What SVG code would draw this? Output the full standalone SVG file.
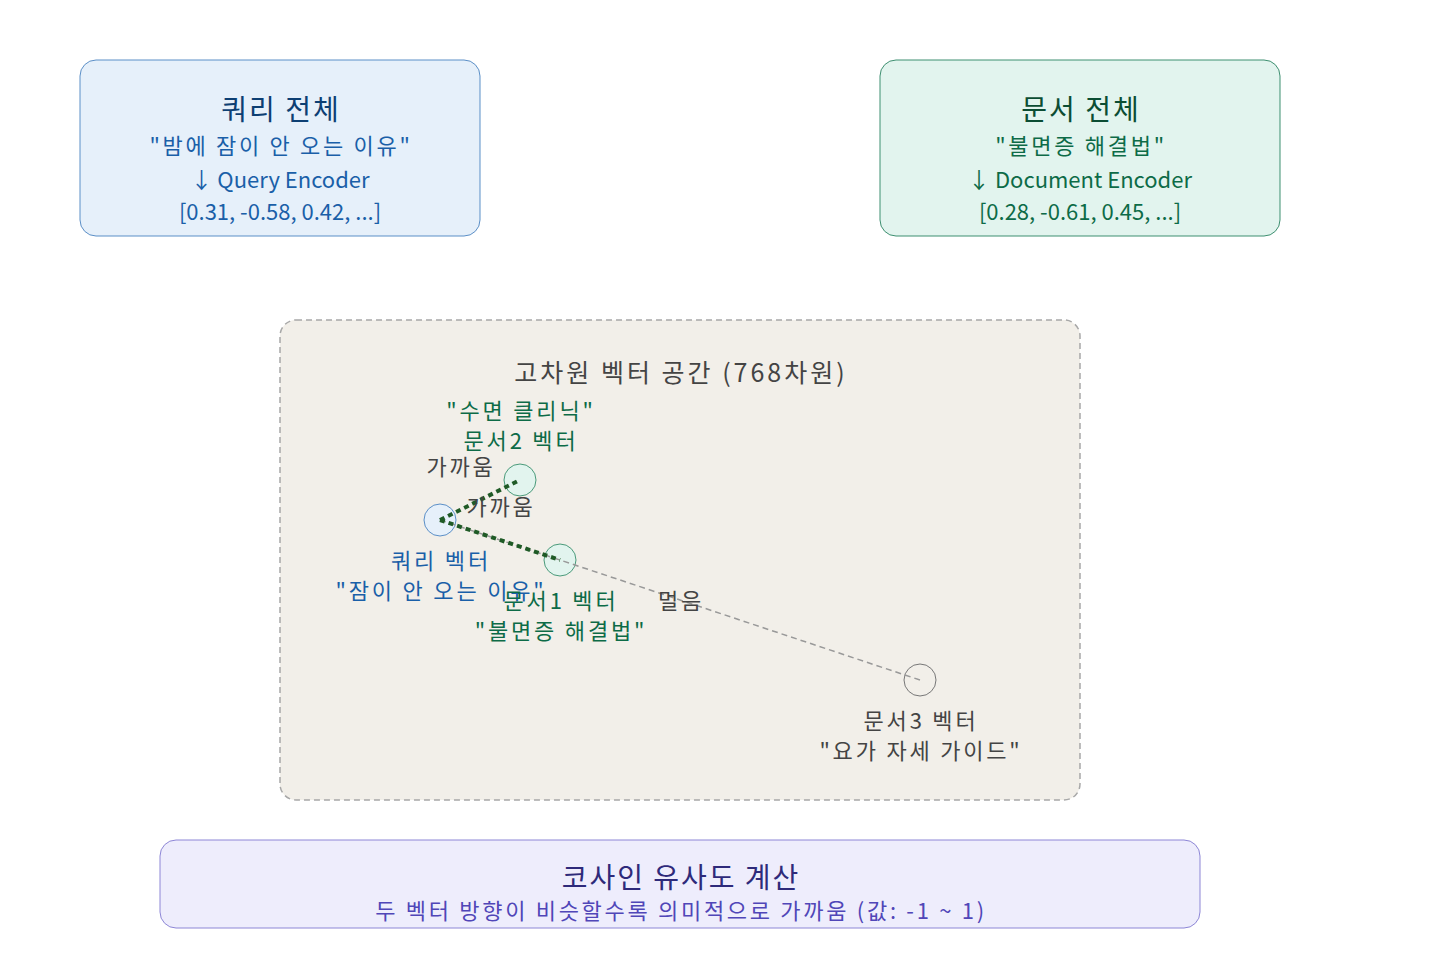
<svg xmlns="http://www.w3.org/2000/svg" width="1440" height="960" viewBox="0 0 1440 960">
<style>
text{font-family:"Noto Sans CJK KR","Noto Sans",sans-serif;text-anchor:middle;dominant-baseline:central}
.t{font-size:28px;letter-spacing:2px}
.s{font-size:22px}
.k{letter-spacing:2.7px}
.l{font-size:22px;letter-spacing:2.8px}
.q1{fill:#0d3f73}.q2{fill:#1a5fa8}
.d1{fill:#0b4d33}.d2{fill:#0d6b47}
.c1{fill:#2e2a7a}.c2{fill:#5046b8}
.g{fill:#444}
.near{stroke:#1f5a26;stroke-width:4;stroke-dasharray:5 4;fill:none}
.far{stroke:#999;stroke-width:1.5;stroke-dasharray:6 4;fill:none}
</style>
<rect width="1440" height="960" fill="#ffffff"/>
<g id="query-box">
<rect x="80" y="60" width="400" height="176" rx="16" fill="#e6f0fa" stroke="#5b8fc7" stroke-width="1"/>
<text class="t q1" x="281" y="108">쿼리 전체</text>
<text class="s k q2" x="281" y="144">"밤에 잠이 안 오는 이유"</text>
<text class="s q2" x="280" y="178">↓ Query Encoder</text>
<text class="s q2" x="280" y="210">[0.31, -0.58, 0.42, ...]</text>
</g>
<g id="doc-box">
<rect x="880" y="60" width="400" height="176" rx="16" fill="#e2f4ee" stroke="#3d8f70" stroke-width="1"/>
<text class="t d1" x="1081" y="108">문서 전체</text>
<text class="s k d2" x="1081" y="144">"불면증 해결법"</text>
<text class="s d2" x="1080" y="178">↓ Document Encoder</text>
<text class="s d2" x="1080" y="210">[0.28, -0.61, 0.45, ...]</text>
</g>
<g id="vector-space">
<rect x="280" y="320" width="800" height="480" rx="16" fill="#f2efe9" stroke="#a8a8a8" stroke-width="1.5" stroke-dasharray="6 4"/>
<text class="g" x="681" y="371" style="font-size:25px;letter-spacing:3px">고차원 벡터 공간 (768차원)</text>
</g>
<g id="query-vector">
<circle cx="440" cy="520" r="16" fill="#e6f0fa" stroke="#5b8fc7" stroke-width="1"/>
</g>
<g id="doc2-vector">
<circle cx="520" cy="480" r="16" fill="#e2f4ee" stroke="#4a9a7a" stroke-width="1"/>
</g>
<g id="doc1-vector">
<circle cx="560" cy="560" r="16" fill="#e2f4ee" stroke="#4a9a7a" stroke-width="1"/>
</g>
<g id="doc3-vector">
<circle cx="920" cy="680" r="16" fill="none" stroke="#777" stroke-width="1"/>
</g>
<g id="connectors">
<line class="far" x1="440" y1="520" x2="920" y2="680"/>
<line class="near" x1="440" y1="520" x2="520" y2="480"/>
<line class="near" x1="440" y1="520" x2="560" y2="560"/>
<text class="l g" x="461" y="465">가까움</text>
<text class="l g" x="501" y="505">가까움</text>
<text class="l g" x="681" y="599">멀음</text>
</g>
<g id="vector-labels">
<text class="l d2" x="521" y="409">"수면 클리닉"</text>
<text class="l d2" x="521" y="439">문서2 벡터</text>
<text class="l q2" x="441" y="559">쿼리 벡터</text>
<text class="l q2" x="441" y="589">"잠이 안 오는 이유"</text>
<text class="l d2" x="561" y="599">문서1 벡터</text>
<text class="l d2" x="561" y="629">"불면증 해결법"</text>
<text class="l g" x="921" y="719">문서3 벡터</text>
<text class="l g" x="921" y="749">"요가 자세 가이드"</text>
</g>
<g id="cosine-box">
<rect x="160" y="840" width="1040" height="88" rx="16" fill="#eeedfc" stroke="#8d86d6" stroke-width="1"/>
<text class="t c1" x="681" y="876">코사인 유사도 계산</text>
<text class="s k c2" x="681" y="909">두 벡터 방향이 비슷할수록 의미적으로 가까움 (값: -1 ~ 1)</text>
</g>
</svg>
